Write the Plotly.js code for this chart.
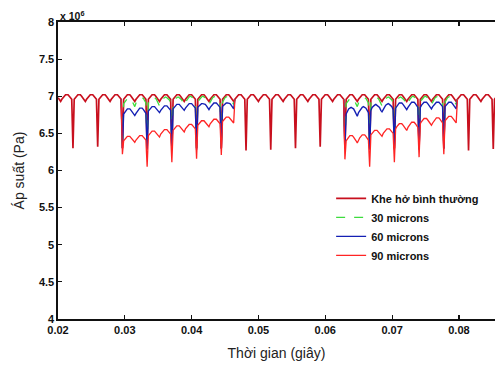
<!DOCTYPE html>
<html><head><meta charset="utf-8">
<script src="https://cdn.plot.ly/plotly-3.0.1.min.js"></script>
<style>html,body{margin:0;padding:0;background:#fff}#chart{width:495px;height:370px}</style>
</head><body><div id="chart"></div><script>
// sampling of the recorded signal (s)
const sampleStep = 0.000185;
const normalStart = 0.02002;
const window1Start = 0.029455;
const window2Start = 0.062755;

const seriesNames = ['Khe hở bình thường', '30 microns', '60 microns', '90 microns'];
const xTickValues = [0.02, 0.03, 0.04, 0.05, 0.06, 0.07, 0.08];
const xTickLabels = ['0.02', '0.03', '0.04', '0.05', '0.06', '0.07', '0.08'];
const yTickValues = [4, 4.5, 5, 5.5, 6, 6.5, 7, 7.5, 8];
const yTickLabels = ['4', '4.5', '5', '5.5', '6', '6.5', '7', '7.5', '8'];

// pressure (x 10^6 Pa), normal clearance
const normalPressure = [
6.98,6.96,6.93,6.96,6.98,7.00,7.02,7.02,7.02,7.00,6.98,6.96,
6.30,6.96,6.98,7.00,7.02,7.02,7.02,7.00,6.98,6.96,6.93,6.96,6.98,7.00,7.02,7.02,7.02,7.00,6.98,6.96,
6.32,6.96,6.98,7.00,7.02,7.02,7.02,7.00,6.98,6.96,6.93,6.96,6.98,7.00,7.02,7.02,7.02,7.00,6.98,6.96,
6.30,6.96,6.98,7.00,7.02,7.02,7.02,7.00,6.98,6.96,6.93,6.96,6.98,7.00,7.02,7.02,7.02,7.00,6.98,6.96,
6.30,6.96,6.98,7.00,7.02,7.02,7.02,7.00,6.98,6.96,6.93,6.96,6.98,7.00,7.02,7.02,7.02,7.00,6.98,6.96,
6.31,6.96,6.98,7.00,7.02,7.02,7.02,7.00,6.98,6.96,6.93,6.96,6.98,7.00,7.02,7.02,7.02,7.00,6.98,6.96,
6.30,6.96,6.98,7.00,7.02,7.02,7.02,7.00,6.98,6.96,6.93,6.96,6.98,7.00,7.02,7.02,7.02,7.00,6.98,6.96,
6.30,6.96,6.98,7.00,7.02,7.02,7.02,7.00,6.98,6.96,6.93,6.96,6.98,7.00,7.02,7.02,7.02,7.00,6.98,6.96,
6.27,6.96,6.98,7.00,7.02,7.02,7.02,7.00,6.98,6.96,6.93,6.96,6.98,7.00,7.02,7.02,7.02,7.00,6.98,6.96,
6.28,6.96,6.98,7.00,7.02,7.02,7.02,7.00,6.98,6.96,6.93,6.96,6.98,7.00,7.02,7.02,7.02,7.00,6.98,6.96,
6.30,6.96,6.98,7.00,7.02,7.02,7.02,7.00,6.98,6.96,6.93,6.96,6.98,7.00,7.02,7.02,7.02,7.00,6.98,6.96,
6.32,6.96,6.98,7.00,7.02,7.02,7.02,7.00,6.98,6.96,6.93,6.96,6.98,7.00,7.02,7.02,7.02,7.00,6.98,6.96,
6.30,6.96,6.98,7.00,7.02,7.02,7.02,7.00,6.98,6.96,6.93,6.96,6.98,7.00,7.02,7.02,7.02,7.00,6.98,6.96,
6.30,6.96,6.98,7.00,7.02,7.02,7.02,7.00,6.98,6.96,6.93,6.96,6.98,7.00,7.02,7.02,7.02,7.00,6.98,6.96,
6.30,6.96,6.98,7.00,7.02,7.02,7.02,7.00,6.98,6.96,6.93,6.96,6.98,7.00,7.02,7.02,7.02,7.00,6.98,6.96,
6.30,6.96,6.98,7.00,7.02,7.02,7.02,7.00,6.98,6.96,6.93,6.96,6.98,7.00,7.02,7.02,7.02,7.00,6.98,6.96,
6.30,6.96,6.98,7.00,7.02,7.02,7.02,7.00,6.98,6.96,6.93,6.96,6.98,7.00,7.02,7.02,7.02,7.00,6.98,6.96,
6.27,6.96,6.98,7.00,7.02,7.02,7.02,7.00,6.98,6.96,6.93,6.96,6.98,7.00,7.02,7.02,7.02,7.00,6.98,6.96,
6.29,6.96,6.98,7.00
];

// 30 microns, fault windows 1 and 2
const p30w1 = [6.96,
6.30,6.90,6.93,6.96,6.97,6.98,6.97,6.96,6.93,6.90,6.86,6.91,6.94,6.97,6.98,6.99,6.98,6.97,6.94,6.91,
6.29,6.91,6.94,6.97,6.98,6.99,6.98,6.97,6.94,6.91,6.87,6.91,6.95,6.97,6.98,6.99,6.98,6.97,6.95,6.91,
6.29,6.91,6.95,6.97,6.98,6.99,6.98,6.97,6.95,6.91,6.88,6.92,6.95,6.98,6.99,7.00,6.99,6.98,6.95,6.92,
6.30,6.92,6.95,6.98,6.99,7.00,6.99,6.98,6.95,6.92,6.89,6.92,6.96,6.98,6.99,7.00,6.99,6.98,6.96,6.92,
6.30,6.92,6.96,6.98,6.99,7.00,6.99,6.98,6.96,6.92,6.89,6.96];
const p30w2 = [6.96,
6.30,6.90,6.93,6.96,6.97,6.98,6.97,6.96,6.93,6.90,6.86,6.91,6.94,6.97,6.98,6.99,6.98,6.97,6.94,6.91,
6.29,6.91,6.94,6.97,6.98,6.99,6.98,6.97,6.94,6.91,6.87,6.91,6.95,6.97,6.98,6.99,6.98,6.97,6.95,6.91,
6.29,6.91,6.95,6.97,6.98,6.99,6.98,6.97,6.95,6.91,6.88,6.92,6.95,6.98,6.99,7.00,6.99,6.98,6.95,6.92,
6.30,6.92,6.95,6.98,6.99,7.00,6.99,6.98,6.95,6.92,6.89,6.92,6.96,6.98,6.99,7.00,6.99,6.98,6.96,6.92,
6.30,6.92,6.96,6.98,6.99,7.00,6.99,6.98,6.96,6.92,6.89,6.96];

// 60 microns
const p60w1 = [6.96,
6.30,6.76,6.79,6.81,6.83,6.83,6.83,6.81,6.79,6.76,6.74,6.77,6.80,6.82,6.84,6.84,6.84,6.82,6.80,6.77,
6.28,6.80,6.82,6.84,6.86,6.86,6.86,6.84,6.82,6.80,6.78,6.81,6.83,6.85,6.87,6.87,6.87,6.85,6.83,6.81,
6.28,6.83,6.85,6.87,6.89,6.89,6.89,6.87,6.85,6.83,6.81,6.84,6.86,6.88,6.90,6.90,6.90,6.88,6.86,6.84,
6.28,6.85,6.87,6.89,6.90,6.90,6.90,6.89,6.87,6.85,6.82,6.85,6.87,6.89,6.91,6.91,6.91,6.89,6.87,6.85,
6.29,6.86,6.88,6.90,6.91,6.91,6.91,6.90,6.88,6.86,6.83,6.96];
const p60w2 = [6.96,
6.30,6.76,6.80,6.83,6.84,6.85,6.84,6.83,6.80,6.76,6.73,6.78,6.81,6.84,6.85,6.86,6.85,6.84,6.81,6.78,
6.28,6.81,6.85,6.87,6.88,6.89,6.88,6.87,6.85,6.81,6.79,6.82,6.86,6.88,6.89,6.90,6.89,6.88,6.86,6.82,
6.28,6.84,6.87,6.89,6.91,6.91,6.91,6.89,6.87,6.84,6.82,6.85,6.88,6.90,6.92,6.92,6.92,6.90,6.88,6.85,
6.28,6.85,6.88,6.90,6.92,6.92,6.92,6.90,6.88,6.85,6.83,6.86,6.88,6.90,6.92,6.92,6.92,6.90,6.88,6.86,
6.29,6.86,6.88,6.90,6.92,6.92,6.92,6.90,6.88,6.86,6.83,6.96];

// 90 microns
const p90w1 = [6.96,
6.22,6.40,6.42,6.44,6.46,6.46,6.46,6.44,6.42,6.40,6.38,6.41,6.43,6.45,6.47,6.47,6.47,6.45,6.43,6.41,
6.05,6.47,6.49,6.51,6.53,6.53,6.53,6.51,6.49,6.47,6.45,6.49,6.51,6.53,6.55,6.55,6.55,6.53,6.51,6.49,
6.11,6.54,6.56,6.58,6.60,6.60,6.60,6.58,6.56,6.54,6.52,6.56,6.58,6.60,6.62,6.62,6.62,6.60,6.58,6.56,
6.16,6.61,6.63,6.65,6.67,6.67,6.67,6.65,6.63,6.61,6.59,6.63,6.65,6.67,6.69,6.69,6.69,6.67,6.65,6.63,
6.21,6.66,6.68,6.70,6.72,6.72,6.72,6.70,6.68,6.66,6.64,6.96];
const p90w2 = [6.96,
6.15,6.40,6.43,6.45,6.47,6.47,6.47,6.45,6.43,6.40,6.37,6.41,6.44,6.46,6.48,6.48,6.48,6.46,6.44,6.41,
6.05,6.48,6.50,6.52,6.54,6.54,6.54,6.52,6.50,6.48,6.46,6.50,6.52,6.54,6.56,6.56,6.56,6.54,6.52,6.50,
6.11,6.56,6.59,6.61,6.63,6.63,6.63,6.61,6.59,6.56,6.54,6.58,6.61,6.63,6.65,6.65,6.65,6.63,6.61,6.58,
6.18,6.63,6.66,6.68,6.70,6.70,6.70,6.68,6.66,6.63,6.61,6.64,6.67,6.69,6.71,6.71,6.71,6.69,6.67,6.64,
6.22,6.67,6.69,6.71,6.73,6.73,6.73,6.71,6.69,6.67,6.64,6.96];

const FONT = '"Liberation Sans", Arial, sans-serif';
const styles = [
  {color: '#c8101e', width: 1.7, dash: 'solid'},
  {color: '#3ddc3d', width: 1.3, dash: 'dash'},
  {color: '#1420b4', width: 1.4, dash: 'solid'},
  {color: '#ff2424', width: 1.3, dash: 'solid'}
];

function tr(y, start, i, show) {
  return {type: 'scatter', mode: 'lines', x0: start, dx: sampleStep, y: y,
    name: seriesNames[i], legendgroup: 'g' + i, showlegend: show,
    line: styles[i], hoverinfo: 'skip'};
}

const data = [
  tr(normalPressure, normalStart, 0, true),
  tr(p30w1, window1Start, 1, true), tr(p30w2, window2Start, 1, false),
  tr(p60w1, window1Start, 2, true), tr(p60w2, window2Start, 2, false),
  tr(p90w1, window1Start, 3, true), tr(p90w2, window2Start, 3, false)
];

const axisCommon = {
  ticks: 'inside', ticklen: 4, tickwidth: 1.2, tickcolor: '#111',
  showline: true, linewidth: 1.6, linecolor: '#111',
  showgrid: false, zeroline: false,
  tickfont: {family: FONT, size: 11, weight: 'bold', color: '#111'}
};

const layout = {
  width: 495, height: 370,
  margin: {l: 58, r: 0, t: 22, b: 51},
  paper_bgcolor: '#fff', plot_bgcolor: '#fff',
  font: {family: FONT, color: '#111'},
  showlegend: true,
  legend: {x: 0.625, y: 0.455, xanchor: 'left', yanchor: 'top',
    bgcolor: 'rgba(0,0,0,0)', font: {family: FONT, size: 11, weight: 'bold', color: '#111'},
    tracegroupgap: 0},
  xaxis: Object.assign({}, axisCommon, {
    range: [0.02, 0.0854], tickvals: xTickValues, ticktext: xTickLabels, mirror: 'ticks',
    title: {text: 'Thời gian (giây)', font: {family: FONT, size: 14, color: '#222'}, standoff: 13}
  }),
  yaxis: Object.assign({}, axisCommon, {
    range: [4, 8], tickvals: yTickValues, ticktext: yTickLabels, mirror: false,
    title: {text: 'Áp suất (Pa)', font: {family: FONT, size: 14, color: '#222'}, standoff: 11}
  }),
  annotations: [{
    xref: 'paper', yref: 'paper', x: 0, y: 1, xanchor: 'left', yanchor: 'bottom', yshift: -2,
    text: 'x 10<sup>6</sup>', showarrow: false,
    font: {family: FONT, size: 10.5, weight: 'bold', color: '#111'}
  }]
};

Plotly.newPlot('chart', data, layout, {displayModeBar: false, staticPlot: true});
</script></body></html>
